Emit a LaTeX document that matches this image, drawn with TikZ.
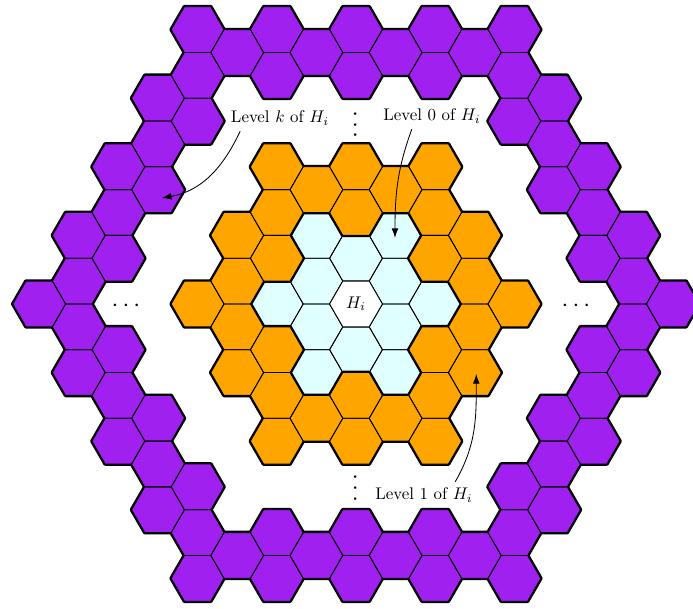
\documentclass[tikz,border=0pt]{standalone}
\usepackage{amsmath}
\usepackage{tikz}
\usetikzlibrary{arrows.meta}

\definecolor{levelk}{RGB}{160,32,240}
\definecolor{levelone}{RGB}{255,165,0}
\definecolor{levelzero}{RGB}{224,255,255}

\newcommand{\hexr}{0.55}
\newcommand{\hexcell}[2]{({0.825*(#1)},{-0.476314*(#2)}) ++(0:\hexr) -- ++(120:\hexr) -- ++(180:\hexr) -- ++(240:\hexr) -- ++(300:\hexr) -- ++(0:\hexr) -- cycle}
\newcommand{\hexlevel}[2]{%
    \foreach \c/\m in #1 {\draw[rim] \hexcell{\c}{\m};}
    \foreach \c/\m in #1 {\fill[#2] \hexcell{\c}{\m};}
    \foreach \c/\m in #1 {\draw[cell] \hexcell{\c}{\m};}}

\newcommand{\levelzerocells}{0/0,0/-2,0/2,-1/-1,1/-1,-1/1,1/1,-1/-3,1/-3,-2/0,2/0,-1/3,1/3}
\newcommand{\levelonecells}{-2/-6,0/-6,2/-6,-1/-5,1/-5,-2/-4,0/-4,2/-4,-3/-3,3/-3,-2/-2,2/-2,-3/-1,3/-1,-4/0,4/0,-3/1,3/1,-2/2,2/2,-3/3,3/3,-2/4,0/4,2/4,-1/5,1/5,-2/6,0/6,2/6}
\newcommand{\levelkcells}{-4/-12,-2/-12,0/-12,2/-12,4/-12,-3/-11,-1/-11,1/-11,3/-11,-4/-10,-2/-10,0/-10,2/-10,4/-10,
    -4/12,-2/12,0/12,2/12,4/12,-3/11,-1/11,1/11,3/11,-4/10,-2/10,0/10,2/10,4/10,
    -5/-9,-4/-8,-5/-7,-6/-6,-5/-5,-6/-4,-7/-3,-6/-2,-7/-1,-8/0,-7/1,-6/2,-7/3,-6/4,-5/5,-6/6,-5/7,-4/8,-5/9,
    5/-9,4/-8,5/-7,6/-6,5/-5,6/-4,7/-3,6/-2,7/-1,8/0,7/1,6/2,7/3,6/4,5/5,6/6,5/7,4/8,5/9}

\begin{document}
\begin{tikzpicture}[rim/.style={line width=2.2pt, line join=round}, cell/.style={line width=0.5pt, line join=round},
    pointer/.style={-{Latex[length=2mm,width=1.4mm]}, line width=0.5pt}, dots/.style={scale=1.45, inner sep=0pt}]
    \useasboundingbox (-7.417,-6.354) rectangle (7.021,6.333);
    \hexlevel{\levelzerocells}{levelzero}
    \filldraw[cell, fill=white] \hexcell{0}{0};
    \hexlevel{\levelonecells}{levelone}
    \hexlevel{\levelkcells}{levelk}

    \node (hi) at (0,0) {$H_i$};
    \node (lk) at (-1.583,3.875) {Level $k$ of $H_i$};
    \node (l0) at (1.583,3.917) {Level $0$ of $H_i$};
    \node (l1) at (1.417,-3.979) {Level $1$ of $H_i$};
    \coordinate (tk) at (-4.042,2.208); \coordinate (t0) at (0.8125,1.375); \coordinate (t1) at (2.506,-1.458);
    \draw[pointer] ([xshift=-0.83cm]lk.south) to[out=-115,in=10] (tk);
    \draw[pointer] ([xshift=-0.42cm]l0.south) to[out=-110,in=90] (t0);
    \draw[pointer] ([xshift=0.65cm]l1.north) to[out=60,in=-90] (t1);

    \node[dots] (dl) at (-4.75,-0.04) {$\cdots$}; \node[dots] (dr) at (4.625,-0.04) {$\cdots$};
    \node[dots, rotate=90] (du) at (0,3.78) {$\cdots$}; \node[dots, rotate=90] (dd) at (0,-3.80) {$\cdots$};
\end{tikzpicture}
\end{document}
